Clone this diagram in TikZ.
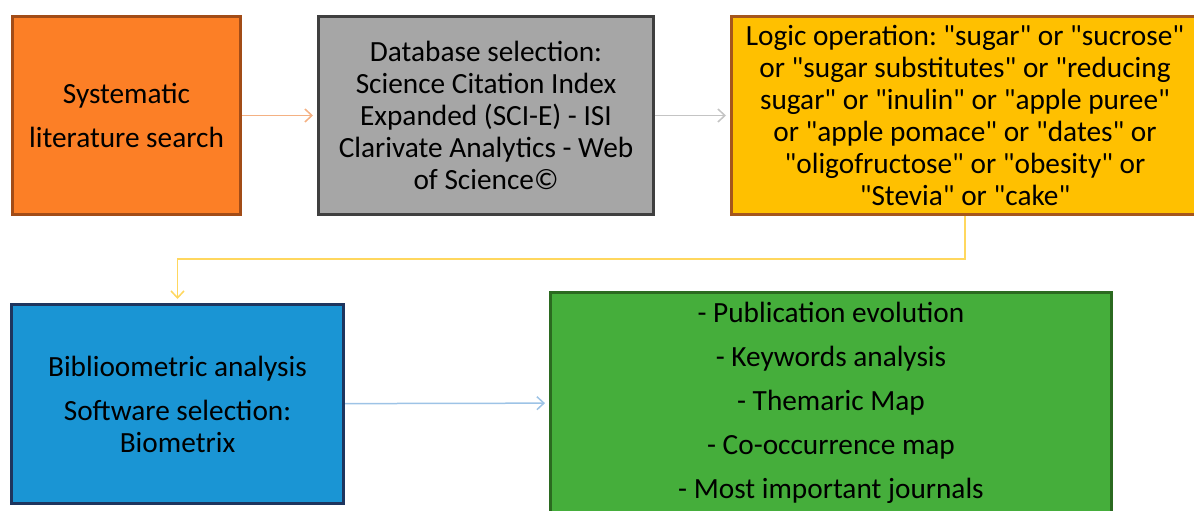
\documentclass[tikz,border=0pt]{standalone}
\usepackage{fontspec}
\setmainfont{Carlito}
\usetikzlibrary{arrows.meta}
\usepackage{xcolor}
\definecolor{searchfill}{HTML}{FC7F26}
\definecolor{searchline}{HTML}{A24C17}
\definecolor{dbfill}{HTML}{A6A6A6}
\definecolor{dbline}{HTML}{3F3F3F}
\definecolor{logicfill}{HTML}{FFC000}
\definecolor{logicline}{HTML}{A5561C}
\definecolor{biblfill}{HTML}{1A95D4}
\definecolor{biblline}{HTML}{1E355E}
\definecolor{outfill}{HTML}{45AE3B}
\definecolor{outline}{HTML}{2B6A20}
\definecolor{arrorange}{HTML}{F4B183}
\definecolor{arrgray}{HTML}{C4C4C4}
\definecolor{arryellow}{HTML}{FFD75E}
\definecolor{arrblue}{HTML}{9DC3E6}
% straight double quote
\newcommand{\dq}{\textquotedbl}
\frenchspacing

\begin{document}
\begin{tikzpicture}[x=1pt,y=-1pt,
    stepbox/.style={draw,line width=3pt,inner sep=0pt,align=center,
      font=\fontsize{29.3}{32}\selectfont},
    loosebox/.style={stepbox,font=\fontsize{29.3}{44}\selectfont},
    flow/.style={line width=1.5pt,-{Straight Barb[length=7pt,width=13pt]},shorten >=4pt}]
        \clip(0,0)rectangle(1194,511);
        % top row
        \node[loosebox,fill=searchfill,draw=searchline,minimum width=228pt,minimum height=198pt]
          (search)at(126.5,115.5){Systematic\\literature search};
        \node[stepbox,fill=dbfill,draw=dbline,minimum width=335pt,minimum height=198pt]
          (database)at(486,115.5){Database selection:\\Science Citation Index\\Expanded (SCI-E) - ISI\\Clarivate Analytics - Web\\of Science©};
        \node[stepbox,fill=logicfill,draw=logicline,minimum width=467pt,minimum height=198pt]
          (logic)at(965,115.5){Logic operation: \dq sugar\dq{} or \dq sucrose\dq\\or \dq sugar substitutes\dq{} or \dq reducing\\sugar\dq{} or \dq inulin\dq{} or \dq apple puree\dq\\or \dq apple pomace\dq{} or \dq dates\dq{} or\\\dq oligofructose\dq{} or \dq obesity\dq{} or\\\dq Stevia\dq{} or \dq cake\dq};
        % bottom row
        \node[stepbox,fill=biblfill,draw=biblline,minimum width=332pt,minimum height=199pt]
          (analysis)at(177.5,404){Biblioometric analysis\\[12pt]Software selection:\\Biometrix};
        \node[loosebox,fill=outfill,draw=outline,minimum width=561pt,minimum height=220pt]
          (results)at(831,402.5){- Publication evolution\\- Keywords analysis\\- Themaric Map\\- Co-occurrence map\\- Most important journals};
        % connectors
        \draw[flow,arrorange](search)--(database);
        \draw[flow,arrgray](database)--(logic);
        \draw[flow,arryellow](logic.south)--++(0,43)-|(analysis.north);
        \draw[flow,arrblue](analysis)--(results);
      \end{tikzpicture}
\end{document}
